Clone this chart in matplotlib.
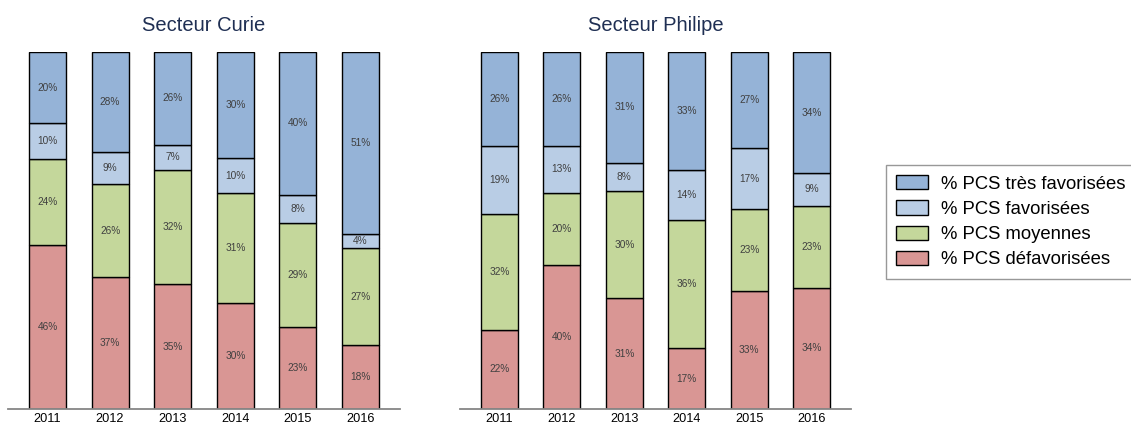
import matplotlib
matplotlib.use("Agg")
import matplotlib.pyplot as plt
import numpy as np

plt.rcParams['font.family'] = ['Liberation Sans', 'DejaVu Sans']

years = ["2011", "2012", "2013", "2014", "2015", "2016"]
categories = ["% PCS défavorisées", "% PCS moyennes", "% PCS favorisées", "% PCS très favorisées"]
colors = ["#D99694", "#C4D79B", "#B9CDE5", "#95B3D7"]

curie_defav = [46, 37, 35, 30, 23, 18]
curie_moy = [24, 26, 32, 31, 29, 27]
curie_fav = [10, 9, 7, 10, 8, 4]
curie_tres = [20, 28, 26, 30, 40, 51]

philipe_defav = [22, 40, 31, 17, 33, 34]
philipe_moy = [32, 20, 30, 36, 23, 23]
philipe_fav = [19, 13, 8, 14, 17, 9]
philipe_tres = [26, 26, 31, 33, 27, 34]

W, H = 1131, 424
fig = plt.figure(figsize=(W / 100, H / 100), dpi=100)

def px_axes(x0, x1, y0, y1):
    return fig.add_axes([x0 / W, 1 - y1 / H, (x1 - x0) / W, (y1 - y0) / H])

ax1 = px_axes(8, 400, 52, 409)
ax2 = px_axes(460, 851, 52, 409)

def draw(ax, title, series):
    data = np.array(series, dtype=float)
    totals = data.sum(axis=0)
    frac = data / totals
    x = np.arange(len(years))
    bottom = np.zeros(len(years))
    handles = []
    for i, (vals, raw) in enumerate(zip(frac, data)):
        bars = ax.bar(x, vals, bottom=bottom, width=0.59, color=colors[i],
                      edgecolor="#000000", linewidth=1.0, label=categories[i], zorder=2)
        handles.append(bars)
        for xi, b, v, r in zip(x, bottom, vals, raw):
            ax.text(xi, b + v / 2, f"{int(r)}%", ha="center", va="center",
                    fontsize=7.3, color="#404040", zorder=3)
        bottom += vals
    ax.set_xlim(-0.63, 5.63)
    ax.set_ylim(0, 1)
    ax.set_xticks(x)
    ax.set_xticklabels(years, fontsize=9.2)
    ax.tick_params(axis="x", length=0, pad=3)
    ax.set_yticks([])
    for s in ["top", "left", "right"]:
        ax.spines[s].set_visible(False)
    ax.spines["bottom"].set_color("#868686")
    ax.spines["bottom"].set_linewidth(1.3)
    ax.spines["bottom"].set_zorder(4)
    ax.set_title(title, fontsize=14.5, color="#1F2F53", pad=15)
    return handles

h = draw(ax1, "Secteur Curie", [curie_defav, curie_moy, curie_fav, curie_tres])
draw(ax2, "Secteur Philipe", [philipe_defav, philipe_moy, philipe_fav, philipe_tres])

leg = fig.legend(h[::-1], categories[::-1], loc="upper left",
                 bbox_to_anchor=(886 / W, 1 - 165 / H), bbox_transform=fig.transFigure,
                 borderaxespad=0, fontsize=13.3, fancybox=False, frameon=True,
                 handlelength=1.75, handleheight=0.8, handletextpad=0.7,
                 labelspacing=0.42, borderpad=0.55)
leg.get_frame().set_edgecolor("#7F7F7F")
leg.get_frame().set_linewidth(1.0)

fig.savefig("out.png", dpi=100)
